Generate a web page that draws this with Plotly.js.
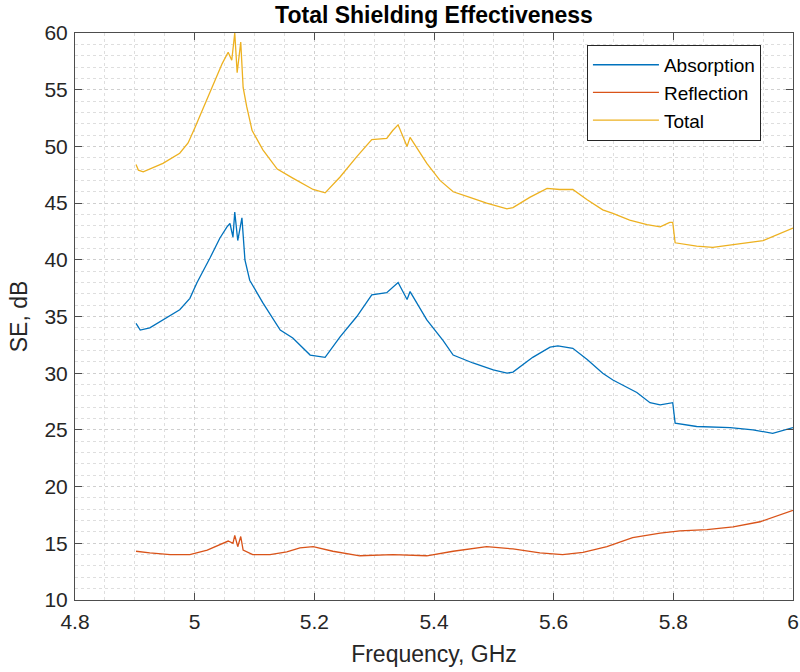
<!DOCTYPE html>
<html>
<head>
<meta charset="utf-8">
<script src="https://cdn.plot.ly/plotly-3.0.1.min.js"></script>
<style>html,body{margin:0;padding:0;background:#fff;}#chart{width:800px;height:672px;}</style>
</head>
<body>
<div id="chart"></div>
<script>
// ---- Data ----
const seriesNames = ["Absorption", "Reflection", "Total"];

const freqAbsorption = [4.902, 4.909, 4.925, 4.947, 4.975, 4.992, 5.004, 5.026, 5.042, 5.054, 5.059, 5.064, 5.067, 5.072, 5.079, 5.084, 5.092, 5.114, 5.143, 5.164, 5.193, 5.218, 5.243, 5.271, 5.296, 5.321, 5.335, 5.340, 5.355, 5.360, 5.388, 5.415, 5.432, 5.465, 5.499, 5.522, 5.532, 5.565, 5.594, 5.607, 5.632, 5.656, 5.682, 5.699, 5.739, 5.761, 5.778, 5.799, 5.803, 5.839, 5.895, 5.933, 5.966, 6.0];
const seAbsorption = [34.4, 33.8, 34.0, 34.7, 35.6, 36.6, 38.0, 40.2, 41.9, 42.9, 43.2, 42.0, 44.2, 41.7, 43.7, 40.0, 38.2, 36.2, 33.8, 33.1, 31.6, 31.4, 33.2, 35.0, 36.9, 37.1, 37.8, 38.0, 36.5, 37.2, 34.7, 32.9, 31.6, 30.9, 30.3, 30.0, 30.1, 31.4, 32.3, 32.4, 32.2, 31.2, 30.0, 29.4, 28.3, 27.4, 27.2, 27.4, 25.6, 25.3, 25.2, 25.0, 24.7, 25.2];

const freqReflection = [4.902, 4.925, 4.959, 4.992, 5.021, 5.042, 5.056, 5.064, 5.067, 5.072, 5.077, 5.081, 5.097, 5.126, 5.154, 5.176, 5.198, 5.231, 5.276, 5.331, 5.388, 5.432, 5.488, 5.532, 5.577, 5.615, 5.649, 5.689, 5.732, 5.778, 5.811, 5.856, 5.900, 5.945, 5.978, 6.0];
const seReflection = [14.3, 14.15, 14.0, 14.0, 14.4, 14.9, 15.2, 15.0, 15.7, 14.7, 15.6, 14.4, 14.0, 14.0, 14.25, 14.6, 14.7, 14.3, 13.9, 14.0, 13.9, 14.3, 14.7, 14.5, 14.15, 14.0, 14.2, 14.7, 15.5, 15.9, 16.1, 16.2, 16.45, 16.9, 17.5, 17.9];

const freqTotal = [4.902, 4.906, 4.914, 4.947, 4.975, 4.989, 5.0, 5.004, 5.021, 5.037, 5.046, 5.056, 5.062, 5.067, 5.071, 5.077, 5.081, 5.087, 5.096, 5.114, 5.138, 5.164, 5.198, 5.218, 5.243, 5.271, 5.296, 5.321, 5.331, 5.340, 5.355, 5.360, 5.388, 5.410, 5.432, 5.460, 5.488, 5.522, 5.532, 5.560, 5.589, 5.610, 5.632, 5.656, 5.682, 5.699, 5.727, 5.756, 5.778, 5.794, 5.799, 5.803, 5.839, 5.866, 5.923, 5.950, 6.0];
const seTotal = [48.4, 47.9, 47.75, 48.5, 49.4, 50.3, 51.6, 52.1, 54.1, 56.1, 57.3, 58.3, 57.6, 60.0, 56.5, 59.2, 55.2, 53.5, 51.4, 49.7, 48.0, 47.2, 46.2, 45.9, 47.3, 49.1, 50.6, 50.7, 51.4, 51.9, 50.0, 50.8, 48.5, 47.0, 46.0, 45.5, 45.0, 44.5, 44.6, 45.5, 46.3, 46.2, 46.2, 45.3, 44.4, 44.1, 43.5, 43.1, 42.9, 43.3, 43.3, 41.5, 41.2, 41.1, 41.5, 41.7, 42.8];

const xTickVals = [4.8, 5, 5.2, 5.4, 5.6, 5.8, 6];
const xTickText = ["4.8", "5", "5.2", "5.4", "5.6", "5.8", "6"];
const yTickVals = [10, 15, 20, 25, 30, 35, 40, 45, 50, 55, 60];
const colors = ["#0072BD", "#D95319", "#EDB120"];

const FONT = "Liberation Sans, Arial, Helvetica, sans-serif";
const xs = [freqAbsorption, freqReflection, freqTotal];
const ys = [seAbsorption, seReflection, seTotal];

const traces = seriesNames.map((n, i) => ({
  type: "scatter", mode: "lines", name: n,
  x: xs[i], y: ys[i],
  line: {color: colors[i], width: 1.3}
}));

const axisCommon = {
  showline: true, linecolor: "#4d4d4d", linewidth: 1, mirror: "ticks",
  ticks: "inside", ticklen: 7, tickcolor: "#4d4d4d", tickwidth: 1,
  showgrid: true, gridcolor: "#cfcfcf", griddash: "dot", gridwidth: 1,
  zeroline: false,
  tickfont: {family: FONT, size: 21, color: "#262626"}
};

const layout = {
  width: 800, height: 672,
  margin: {l: 75, r: 7, t: 33, b: 72},
  paper_bgcolor: "#ffffff", plot_bgcolor: "#ffffff",
  showlegend: true,
  title: {text: "<b>Total Shielding Effectiveness</b>", font: {family: FONT, size: 23, color: "#000"}, x: 0.5425, xanchor: "center", y: 0.978, yanchor: "middle"},
  xaxis: Object.assign({}, axisCommon, {
    range: [4.8, 6], tickvals: xTickVals, ticktext: xTickText,
    ticklabelstandoff: 3,
    minor: {dtick: 0.05, tick0: 4.8, showgrid: true, gridcolor: "#dedede", griddash: "dot", gridwidth: 1, ticks: ""},
    title: {text: "Frequency, GHz", font: {family: FONT, size: 23, color: "#262626"}, standoff: 13}
  }),
  yaxis: Object.assign({}, axisCommon, {
    range: [10, 60], tickvals: yTickVals,
    ticklabelstandoff: 2,
    minor: {dtick: 1, tick0: 10, showgrid: true, gridcolor: "#dedede", griddash: "dot", gridwidth: 1, ticks: ""},
    title: {text: "SE, dB", font: {family: FONT, size: 23, color: "#262626"}, standoff: 10}
  }),
  legend: {
    x: 0.713, y: 0.979, xanchor: "left", yanchor: "top",
    bgcolor: "#ffffff", bordercolor: "#262626", borderwidth: 1,
    font: {family: FONT, size: 19, color: "#000"},
    itemwidth: 66, tracegroupgap: 0
  }
};

Plotly.newPlot("chart", traces, layout, {staticPlot: true, displayModeBar: false});
</script>
</body>
</html>
